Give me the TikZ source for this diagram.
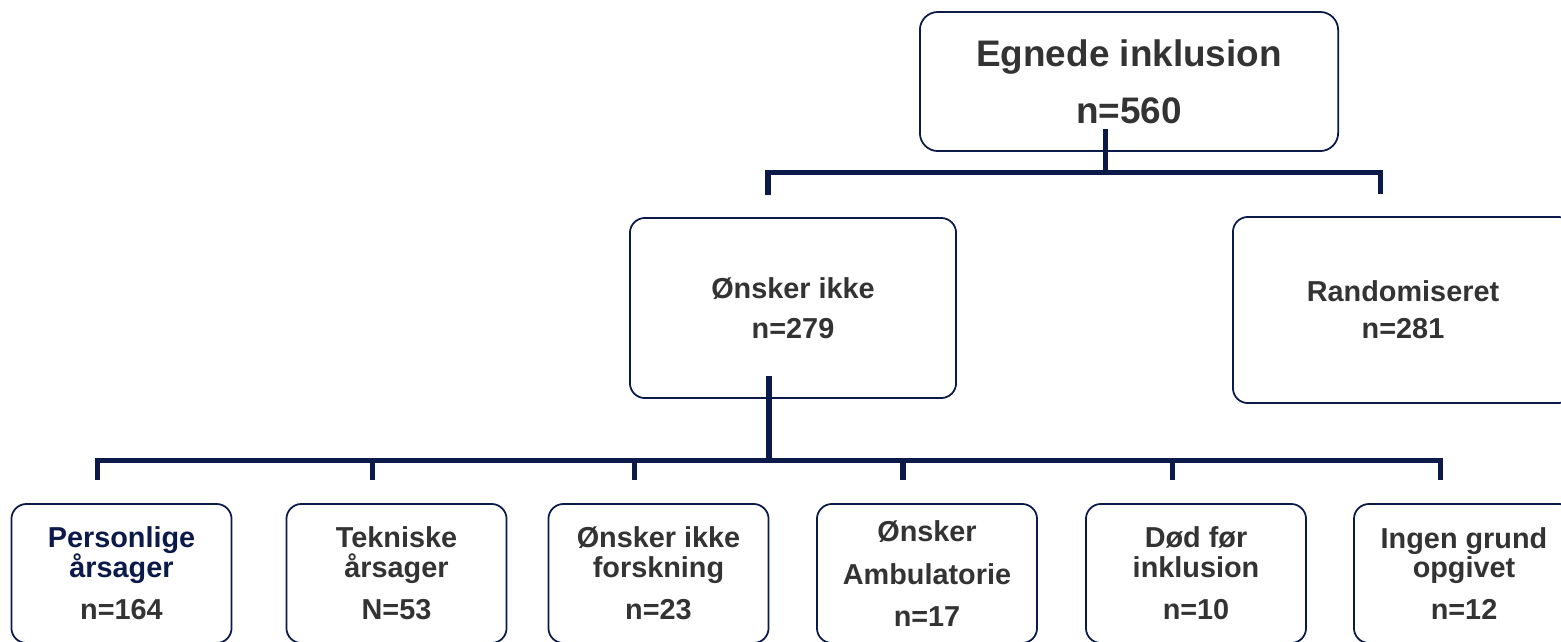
\documentclass[tikz,border=0pt]{standalone}
\usepackage{fontspec}
\setmainfont{Liberation Sans}
\usepackage{xcolor}
\definecolor{navy}{HTML}{0B1A48}
\definecolor{txtgray}{HTML}{333333}
\tikzset{
  boks/.style={draw=navy, line width=0.5pt, rounded corners=0.15cm,
    inner sep=0pt, align=center, text=txtgray},
  lille/.style={font=\fontsize{8.2}{8.5}\selectfont\bfseries,
    minimum width=2.20cm, minimum height=1.39cm},
  trunk/.style={draw=navy, line width=0.05cm}
}

\begin{document}
\begin{tikzpicture}[x=0.01cm,y=-0.01cm]
  \useasboundingbox (0,0) rectangle (1561,641);

  % --- top: egnede til inklusion ------------------------------------------
  \node[boks, minimum width=4.18cm, minimum height=1.39cm, rounded corners=0.18cm,
        font=\fontsize{10.5}{16.2}\selectfont\bfseries] (egnede) at (1129,81.5)
        {Egnede inklusion\\n=560};

  % --- midte: ønsker ikke / randomiseret ----------------------------------
  \node[boks, minimum width=3.26cm, minimum height=1.80cm,
        font=\fontsize{8.2}{11.4}\selectfont\bfseries] (onsker) at (793,308)
        {Ønsker ikke\\n=279};
  \node[boks, minimum width=3.40cm, minimum height=1.86cm,
        font=\fontsize{8.2}{10.6}\selectfont\bfseries] (random) at (1403,310)
        {Randomiseret\\n=281};

  % --- bund: årsager, en boks pr. grund ------------------------------------
  \node[boks, lille] (b1) at (121.5,573.5)
    {\textcolor{navy}{Personlige}\\\textcolor{navy}{årsager}\\[3.4pt]n=164};
  \node[boks, lille] (b2) at (396.5,573.5) {Tekniske\\årsager\\[3.4pt]N=53};
  \node[boks, lille] (b3) at (658.5,573.5) {Ønsker ikke\\forskning\\[3.4pt]n=23};
  \node[boks, lille] (b4) at (927,573.5) {Ønsker\\[3.6pt]Ambulatorie\\[3.4pt]n=17};
  \node[boks, lille] (b5) at (1196,573.5) {Død før\\inklusion\\[3.4pt]n=10};
  \node[boks, lille] (b6) at (1464,573.5) {Ingen grund\\opgivet\\[3.4pt]n=12};

  % forbindelser
  \coordinate (bus1) at ([yshift=0.44cm]onsker.north);
  \draw[trunk] ([shift={(-0.24cm,0.23cm)}]egnede.south) -- ([xshift=-0.24cm]egnede.south |- bus1);
  \draw[trunk] ([shift={(-0.25cm,0.22cm)}]onsker.north) |- ([shift={(-0.23cm,0.44cm)}]random.north)
    -- ++(0,-0.22cm);

  \coordinate (bus2) at ([yshift=0.43cm]b1.north);
  \draw[trunk] ([shift={(-0.24cm,0.23cm)}]onsker.south) -- ([xshift=-0.24cm]onsker.south |- bus2);
  \draw[trunk] ([shift={(-0.24cm,0.23cm)}]b1.north) |- ([shift={(-0.24cm,0.43cm)}]b6.north)
    -- ++(0,-0.20cm);
  \foreach \b in {b2,b3,b4,b5}
    \draw[trunk] ([shift={(-0.24cm,0.23cm)}]\b.north) -- ([xshift=-0.24cm]\b.north |- bus2);

\end{tikzpicture}
\end{document}
